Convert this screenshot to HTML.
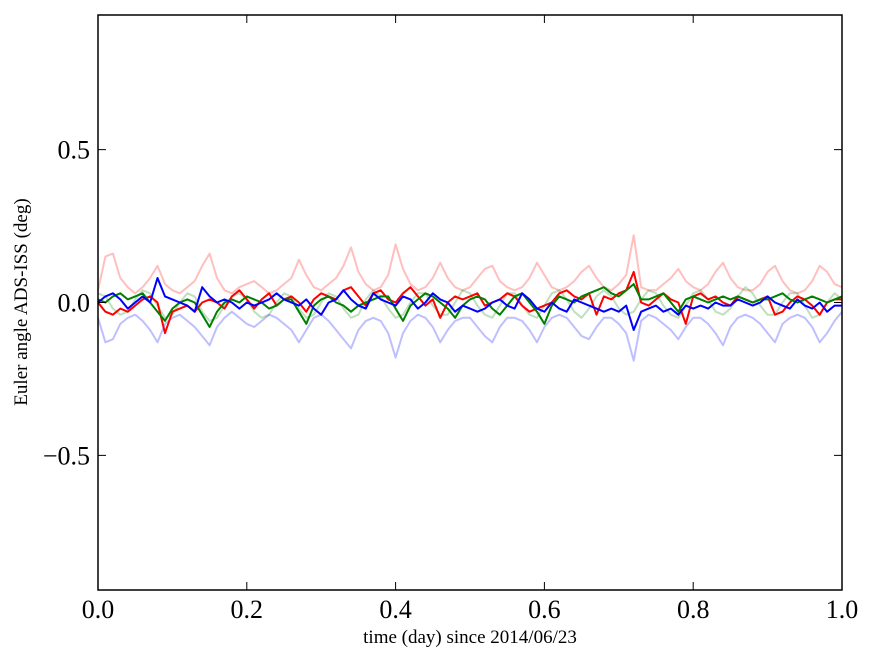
<!DOCTYPE html>
<html><head><meta charset="utf-8"><style>
body{margin:0;background:#fff;}
svg{display:block;font-family:"Liberation Serif","DejaVu Serif",serif;}
</style></head><body>
<svg id="chart" width="875" height="662">
<rect x="0" y="0" width="875" height="662" fill="#fff"/>
<g id="series"></g>
<g id="axes"></g>
<rect x="98" y="15" width="744" height="575" fill="none" stroke="#000" stroke-width="1.5"/>
<text x="470" y="643" font-size="19" text-anchor="middle">time (day) since 2014/06/23</text>
<text x="27" y="302" font-size="19" text-anchor="middle" transform="rotate(-90 27 302)">Euler angle ADS-ISS (deg)</text>
</svg>
<script>
const xTicks=[0,0.2,0.4,0.6,0.8,1.0];
const xTickLabels=["0.0","0.2","0.4","0.6","0.8","1.0"];
const yTicks=[-0.5,0,0.5];
const yTickLabels=["\u22120.5","0.0","0.5"];
const fadedRed=[0.04,0.15,0.16,0.08,0.05,0.03,0.05,0.08,0.12,0.06,0.04,0.03,0.05,0.07,0.12,0.16,0.08,0.04,0.03,0.05,0.06,0.07,0.05,0.03,0.04,0.06,0.08,0.14,0.09,0.05,0.04,0.06,0.08,0.12,0.18,0.10,0.06,0.04,0.05,0.09,0.19,0.11,0.06,0.04,0.05,0.08,0.13,0.08,0.05,0.04,0.05,0.08,0.11,0.12,0.07,0.05,0.04,0.05,0.08,0.13,0.09,0.05,0.04,0.05,0.07,0.10,0.12,0.08,0.05,0.04,0.06,0.09,0.22,0.05,0.04,0.04,0.06,0.08,0.11,0.07,0.05,0.04,0.06,0.10,0.13,0.08,0.05,0.04,0.04,0.06,0.10,0.12,0.07,0.04,0.03,0.04,0.07,0.12,0.10,0.06,0.05];
const fadedBlue=[-0.05,-0.13,-0.12,-0.07,-0.05,-0.04,-0.06,-0.09,-0.13,-0.07,-0.05,-0.04,-0.06,-0.08,-0.11,-0.14,-0.08,-0.05,-0.03,-0.05,-0.07,-0.08,-0.06,-0.04,-0.05,-0.07,-0.09,-0.13,-0.09,-0.05,-0.04,-0.06,-0.09,-0.12,-0.15,-0.09,-0.06,-0.05,-0.06,-0.10,-0.18,-0.10,-0.06,-0.04,-0.05,-0.08,-0.13,-0.09,-0.06,-0.05,-0.05,-0.08,-0.11,-0.13,-0.08,-0.05,-0.05,-0.06,-0.09,-0.13,-0.08,-0.05,-0.04,-0.05,-0.08,-0.11,-0.12,-0.08,-0.05,-0.05,-0.07,-0.10,-0.19,-0.06,-0.04,-0.05,-0.07,-0.09,-0.12,-0.08,-0.05,-0.05,-0.07,-0.10,-0.14,-0.08,-0.05,-0.04,-0.05,-0.07,-0.10,-0.13,-0.07,-0.05,-0.04,-0.05,-0.08,-0.13,-0.10,-0.06,-0.03];
const fadedGreen=[0.03,0.02,-0.02,-0.04,-0.03,0.01,0.04,0.03,-0.01,-0.05,-0.04,0.00,0.03,0.02,-0.03,-0.06,-0.05,-0.01,0.02,0.03,0.01,-0.03,-0.05,-0.04,0.00,0.03,0.02,-0.02,-0.05,-0.04,0.00,0.03,0.02,-0.02,-0.05,-0.04,0.01,0.04,0.02,-0.02,-0.05,-0.04,0.00,0.03,0.03,-0.01,-0.04,-0.04,0.00,0.04,0.03,-0.01,-0.04,-0.05,-0.01,0.03,0.03,-0.01,-0.04,-0.05,-0.01,0.03,0.04,0.01,-0.03,-0.05,-0.02,0.02,0.04,0.02,-0.02,-0.04,-0.03,0.01,0.04,0.03,-0.01,-0.04,-0.05,-0.01,0.03,0.04,0.01,-0.03,-0.04,-0.02,0.02,0.05,0.03,-0.01,-0.04,-0.04,0.00,0.03,0.03,-0.01,-0.05,-0.04,0.00,0.03,0.01];
const solidRed=[0.00,-0.03,-0.04,-0.02,-0.03,-0.01,0.01,0.02,0.00,-0.10,-0.03,-0.02,-0.01,-0.03,0.00,0.01,0.00,-0.02,0.02,0.04,0.01,-0.02,0.01,0.03,-0.01,0.01,0.02,0.00,-0.03,0.01,0.03,0.02,0.01,0.04,0.05,0.02,-0.01,0.03,0.04,0.01,0.00,0.03,0.05,0.02,-0.01,0.01,-0.05,0.00,0.02,0.01,0.02,0.03,-0.01,0.00,0.01,0.03,0.02,-0.01,-0.03,-0.02,-0.01,0.00,0.03,0.04,0.02,0.01,0.03,-0.04,0.02,0.01,0.03,0.04,0.10,0.00,-0.01,0.01,0.03,0.01,0.00,-0.07,0.02,0.03,0.01,0.02,0.00,-0.01,0.02,0.01,0.00,0.01,0.02,-0.04,-0.03,0.00,0.02,0.01,-0.01,-0.04,0.00,0.01,0.01];
const solidGreen=[0.01,0.00,0.02,0.03,0.01,0.02,0.03,0.00,-0.03,-0.06,-0.02,0.00,0.01,0.00,-0.04,-0.08,-0.03,0.00,0.01,0.00,0.02,0.01,0.00,-0.02,-0.01,0.01,0.01,-0.03,-0.07,-0.01,0.01,0.02,0.00,-0.01,-0.03,-0.01,0.00,0.01,0.02,0.02,-0.02,-0.06,-0.01,0.01,0.03,0.02,0.00,-0.02,-0.05,-0.01,0.01,0.02,0.01,-0.02,-0.04,-0.01,0.02,0.03,0.00,-0.03,-0.07,-0.01,0.02,0.01,0.00,0.02,0.03,0.04,0.05,0.03,0.02,0.04,0.06,0.01,0.01,0.02,0.03,0.00,-0.03,0.01,0.02,0.01,0.00,0.01,0.02,0.01,0.02,0.01,0.00,0.01,0.01,0.02,0.03,0.01,0.00,0.01,0.02,0.01,0.00,0.01,0.02];
const solidBlue=[0.00,0.02,0.03,0.01,-0.02,0.00,0.02,0.00,0.08,0.02,0.01,0.00,-0.01,-0.03,0.05,0.02,0.00,0.01,0.00,-0.02,0.00,-0.01,0.00,0.01,0.03,0.01,0.00,-0.01,0.01,-0.02,-0.04,0.00,0.01,0.04,0.01,-0.01,-0.02,0.03,0.01,0.00,-0.01,0.02,0.01,-0.02,0.00,0.03,0.01,0.00,-0.03,-0.01,-0.02,-0.03,-0.02,0.00,0.01,-0.01,-0.02,0.03,0.01,-0.02,-0.03,0.00,-0.02,-0.03,0.01,0.00,-0.01,-0.02,-0.03,-0.02,-0.03,-0.01,-0.09,-0.03,-0.02,-0.01,-0.03,-0.02,-0.04,-0.01,-0.02,-0.01,-0.02,0.00,-0.01,-0.01,0.01,0.00,-0.01,0.00,0.02,0.00,-0.01,-0.02,0.01,-0.01,-0.02,0.00,-0.03,-0.01,-0.01];
const series=[
 {name:'faded-red-series',vals:fadedRed,color:'rgba(255,0,0,0.25)'},
 {name:'faded-green-series',vals:fadedGreen,color:'rgba(0,128,0,0.25)'},
 {name:'faded-blue-series',vals:fadedBlue,color:'rgba(0,0,255,0.25)'},
 {name:'red-series',vals:solidRed,color:'#ff0000'},
 {name:'green-series',vals:solidGreen,color:'#008000'},
 {name:'blue-series',vals:solidBlue,color:'#0000ff'}
];
const X0=98,X1=842,Y0=15,Y1=590,YMIN=-0.94,YMAX=0.94;
function xs(v){return X0+(v-0)/(1-0)*(X1-X0);}
function ys(v){return Y1-(v-YMIN)/(YMAX-YMIN)*(Y1-Y0);}
const NS='http://www.w3.org/2000/svg';
const sg=document.getElementById('series');
series.forEach(s=>{
 const n=s.vals.length;
 const pts=s.vals.map((v,i)=>xs(i/(n-1)).toFixed(1)+','+ys(v).toFixed(1)).join(' ');
 const pl=document.createElementNS(NS,'polyline');
 pl.setAttribute('points',pts);
 pl.setAttribute('fill','none');
 pl.setAttribute('stroke',s.color);
 pl.setAttribute('stroke-width','2');
 pl.setAttribute('stroke-linejoin','round');
 
 
 sg.appendChild(pl);
});
const ax=document.getElementById('axes');
xTicks.forEach((t,i)=>{
 const x=xs(t);
 const l=document.createElementNS(NS,'path');
 l.setAttribute('d',`M${x},${Y1}v-8M${x},${Y0}v8`);
 l.setAttribute('stroke','#000');
 
 
 ax.appendChild(l);
 const tx=document.createElementNS(NS,'text');
 tx.setAttribute('x',x);tx.setAttribute('y',Y1+28);
 tx.setAttribute('font-size','26');tx.setAttribute('text-anchor','middle');
 tx.textContent=xTickLabels[i];
 
 
 ax.appendChild(tx);
});
yTicks.forEach((t,i)=>{
 const y=ys(t);
 const l=document.createElementNS(NS,'path');
 l.setAttribute('d',`M${X0},${y}h8M${X1},${y}h-8`);
 l.setAttribute('stroke','#000');
 
 
 ax.appendChild(l);
 const tx=document.createElementNS(NS,'text');
 tx.setAttribute('x',X0-8);tx.setAttribute('y',y+9);
 tx.setAttribute('font-size','26');tx.setAttribute('text-anchor','end');
 tx.textContent=yTickLabels[i];
 
 
 ax.appendChild(tx);
});
</script>
</body></html>
